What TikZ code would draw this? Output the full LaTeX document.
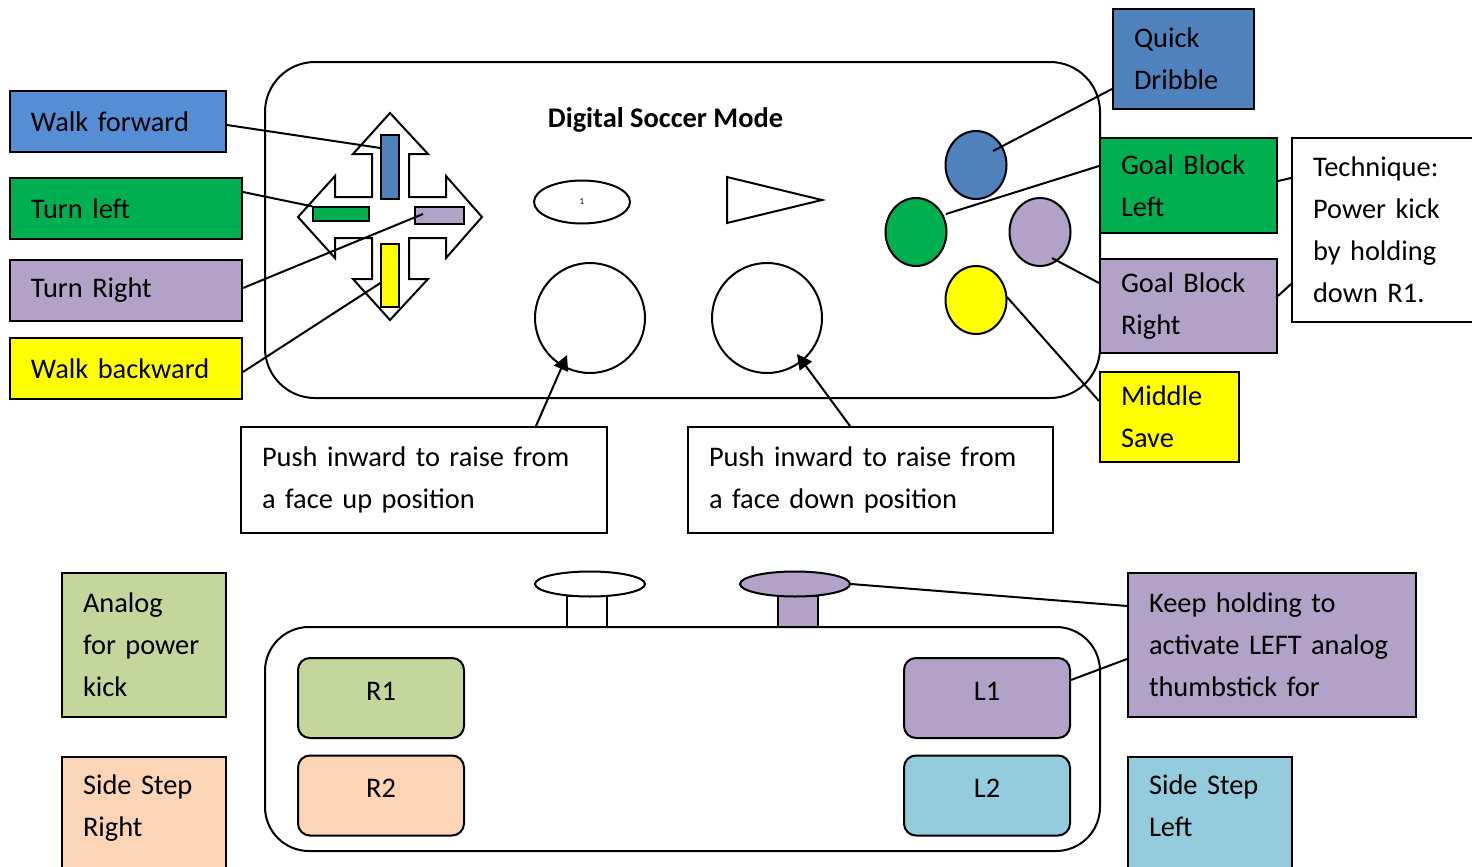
\documentclass[tikz,border=0pt]{standalone}
\usepackage{fontspec}
\setmainfont{Carlito}
\usetikzlibrary{shapes.geometric,arrows.meta,calc}
\definecolor{cWF}{HTML}{558ED5}
\definecolor{cB}{HTML}{4F81BD}
\definecolor{cG}{HTML}{00B050}
\definecolor{cP}{HTML}{B2A2C7}
\definecolor{cY}{HTML}{FFFF00}
\definecolor{cLG}{HTML}{C3D69B}
\definecolor{cPe}{HTML}{FBD5B5}
\definecolor{cLB}{HTML}{93CDDD}
\newcommand\fsz{\fontsize{14.2pt}{21pt}\selectfont}
\begin{document}
\begin{tikzpicture}[x=0.5pt,y=-0.5pt,line width=1pt,
  box/.style={draw, rectangle, anchor=north west, align=left, inner xsep=10.5pt, inner ysep=0pt, font=\fsz},
  btn/.style={draw, rectangle, rounded corners=6pt, minimum width=83pt, minimum height=40pt, font=\fsz, text depth=7pt},
  bar/.style={draw, rectangle, line width=0.6pt, inner sep=0pt},
  dot/.style={draw, ellipse, minimum width=30.5pt, minimum height=34pt, inner sep=0pt},
  bigc/.style={draw, circle, minimum size=55pt, inner sep=0pt},
  conn/.style={draw, line width=1pt},
  arr/.style={draw, line width=1pt, -{Triangle[length=7.5pt,width=7.5pt]}}]
\clip (0,0) rectangle (1472,867);
% controller body (top view)
\draw[rounded corners=25pt] (265,62) rectangle (1100,398);
\node[font=\fsz\bfseries, inner sep=0pt] (title) at (665.5,120) {Digital Soccer Mode};
% D-pad outline
\draw (390,113) -- (428,154) -- (409,154) -- (409,197) -- (446,197) -- (446,176) -- (482,217)
  -- (446,258) -- (446,238) -- (409,238) -- (409,279) -- (428,279) -- (390,320) -- (353,279)
  -- (372,279) -- (372,238) -- (335,238) -- (335,258) -- (298,217) -- (335,176) -- (335,197)
  -- (372,197) -- (372,154) -- (353,154) -- cycle;
\node[bar, fill=cB, minimum width=9pt, minimum height=32pt] (bb) at (390,167) {};
\node[bar, fill=cG, minimum width=28pt, minimum height=7pt] (gbar) at (341,214) {};
\node[bar, fill=cP, minimum width=24.5pt, minimum height=8.5pt] (pbar) at (439.5,215.5) {};
\node[bar, fill=cY, minimum width=9pt, minimum height=31.5pt] (ybar) at (390,275.5) {};
% select / start
\node[draw, ellipse, minimum width=48pt, minimum height=21.5pt, inner sep=0pt, font=\fontsize{4.5pt}{5pt}\selectfont] (sel) at (582,202) {1};
\draw (727,177) -- (727,223) -- (822,200) -- cycle;
% thumbsticks
\node[bigc] (lstick) at (590,318) {};
\node[bigc] (rstick) at (767,318) {};
% face buttons
\node[dot, fill=cB] (cb) at (976,165) {};
\node[dot, fill=cG] (cg) at (916,232) {};
\node[dot, fill=cP] (cp) at (1040,232) {};
\node[dot, fill=cY] (cy) at (976,300) {};
% left labels
\node[box, fill=cWF, text width=87pt, minimum height=30.5pt] (wf) at (9,90) {Walk~forward};
\node[box, fill=cG, text width=95pt, minimum height=30.5pt] (tl) at (9,177) {Turn~left};
\node[box, fill=cP, text width=95pt, minimum height=30.5pt] (tr) at (9,259) {Turn~Right};
\node[box, fill=cY, text width=95pt, minimum height=30.5pt] (wb) at (9,337) {Walk~backward};
% right labels
\node[box, fill=cB, text width=49.5pt, minimum height=50pt] (qd) at (1112,8) {Quick\\Dribble};
\node[box, fill=cG, text width=67.5pt, minimum height=47.5pt] (gbl) at (1099,137) {Goal~Block\\Left};
\node[box, fill=white, text width=80pt, minimum height=92pt] (tech) at (1291,137) {Technique:\\Power~kick\\by~holding\\down~R1.};
\node[box, fill=cP, text width=67.5pt, minimum height=47pt] (gbr) at (1099,258) {Goal~Block\\Right};
\node[box, fill=cY, text width=48.5pt, minimum height=45pt] (ms) at (1099,371) {Middle\\Save};
% push boxes
\node[box, fill=white, text width=162pt, minimum height=53pt] (pu) at (240,426) {Push~inward~to~raise~from\\a~face~up~position};
\node[box, fill=white, text width=161.5pt, minimum height=53pt] (pd) at (687,426) {Push~inward~to~raise~from\\a~face~down~position};
% controller body (front view)
\draw (567,627) rectangle (607,596);
\node[draw, fill=white, ellipse, minimum width=55pt, minimum height=12.5pt, inner sep=0pt] (lsk) at (590,584) {};
\draw[fill=cP] (778,627) rectangle (818,596);
\node[draw, fill=cP, ellipse, minimum width=55pt, minimum height=12.5pt, inner sep=0pt] (rsk) at (795,584) {};
\draw[rounded corners=22pt] (265,627) rectangle (1100,851);
\node[btn, fill=cLG] (r1) at (381,698) {R1};
\node[btn, fill=cPe] (r2) at (381,795.5) {R2};
\node[btn, fill=cP] (l1) at (987,698) {L1};
\node[btn, fill=cLB] (l2) at (987,795.5) {L2};
% bottom labels
\node[box, fill=cLG, text width=61pt, minimum height=72pt] (an) at (61,572) {Analog\\for~power\\kick};
\node[box, fill=cP, text width=123pt, minimum height=72pt] (kh) at (1127,572) {Keep~holding~to\\activate~LEFT~analog\\thumbstick~for};
\node[box, fill=cPe, text width=61pt, minimum height=76pt] (ssr) at (61,756) {Side~Step\\Right\\\strut};
\node[box, fill=cLB, text width=61pt, minimum height=76pt] (ssl) at (1127,756) {Side~Step\\Left\\\strut};
% connectors
\draw[conn] ($(wf.east)+(0,3.5)$) -- ($(bb.west)+(0,-19)$);
\draw[conn] ($(tl.east)+(0,-16.5)$) -- (gbar.north west);
\draw[conn] ($(tr.east)+(0,-2.5)$) -- ($(pbar.center)+(-16.5,-1.5)$);
\draw[conn] ($(wb.east)+(0,3.5)$) -- ($(ybar.west)+(0,7.5)$);
\draw[conn] ($(qd.west)+(0,30)$) -- ($(cb)+(17,-14)$);
\draw[conn] ($(gbl.west)+(0,-19.5)$) -- ($(cg)+(30,-18)$);
\draw[conn] ($(gbl.east)+(0,-4.5)$) -- ($(tech.west)+(0,-52)$);
\draw[conn] ($(gbr.east)+(0,-10)$) -- ($(tech.west)+(0,54)$);
\draw[conn] ($(gbr.west)+(0,-23)$) -- ($(cp)+(12,26)$);
\draw[conn] ($(ms.west)+(0,-16)$) -- ($(cy)+(31,-3)$);
\draw[arr] ($(pu.north west)+(296,0)$) -- ($(lstick)+(-23,37)$);
\draw[arr] ($(pd.north west)+(163,0)$) -- ($(rstick)+(30,36)$);
\draw[conn] (rsk.east) -- ($(kh.west)+(0,-39)$);
\draw[conn] ($(l1.east)+(0,-18)$) -- ($(kh.west)+(0,14)$);
\end{tikzpicture}
\end{document}
